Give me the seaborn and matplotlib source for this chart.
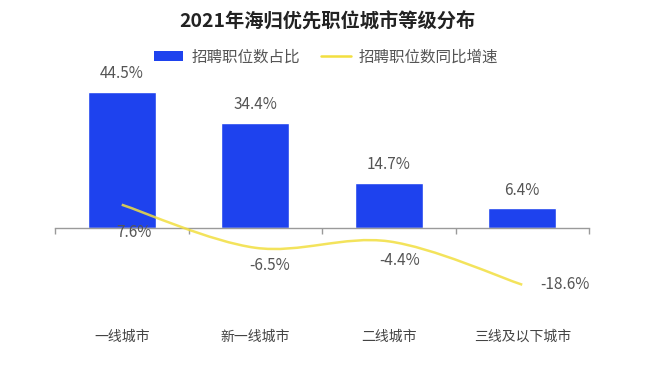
import numpy as np
import pandas as pd
import seaborn as sns
import matplotlib.pyplot as plt
from matplotlib.path import Path
from matplotlib.patches import PathPatch, Patch
from matplotlib.lines import Line2D

# Data
cities = ['一线城市', '新一线城市', '二线城市', '三线及以下城市']
share = [44.5, 34.4, 14.7, 6.4]
growth = [7.6, -6.5, -4.4, -18.6]

title = '2021年海归优先职位城市等级分布'
share_name = '招聘职位数占比'
growth_name = '招聘职位数同比增速'

BLUE = '#1e42ee'
YELLOW = '#f2df3f'

sns.set_theme(style='white')
plt.rcParams['font.family'] = ['Noto Sans CJK SC', 'DejaVu Sans']

df = pd.DataFrame({'city': cities, 'share': share, 'growth': growth})

fig = plt.figure(figsize=(6.55, 3.67), dpi=100)
ax = fig.add_axes([55 / 655, 1 - 300 / 367, (589 - 55) / 655, 230 / 367])

sns.barplot(data=df, x='city', y='share', color=BLUE, saturation=1,
            width=0.51, ax=ax)
ax.set_xlim(-0.5, len(cities) - 0.5)
ax.set_ylim(-23.6, 51.7)

# smooth growth line (Catmull-Rom through the points)
xs = np.arange(len(growth), dtype=float)
pts = np.column_stack([xs, growth])
ext = np.vstack([pts[0], pts, pts[-1]])
verts = [pts[0]]
codes = [Path.MOVETO]
for i in range(len(pts) - 1):
    p0, p1, p2, p3 = ext[i], ext[i + 1], ext[i + 2], ext[i + 3]
    verts += [p1 + (p2 - p0) / 6, p2 - (p3 - p1) / 6, p2]
    codes += [Path.CURVE4] * 3
ax.add_patch(PathPatch(Path(verts, codes), fill=False, edgecolor=YELLOW,
                       lw=1.8, alpha=0.85, zorder=5))

# bar labels
for x, v in zip(xs, share):
    ax.annotate(f'{v}%', (x, v), xytext=(0, 13), textcoords='offset points',
                ha='center', va='center', fontsize=11, color='#555555')

# growth labels
offsets = [(9, -20), (10, -13), (8, -13.5), (31, 0)]
for x, v, off in zip(xs, growth, offsets):
    ax.annotate(f'{v}%', (x, v), xytext=off, textcoords='offset points',
                ha='center', va='center', fontsize=11, color='#555555')

# axis line at zero with boundary ticks
sns.despine(ax=ax, left=True, top=True, right=True)
ax.spines['bottom'].set_position(('data', 0))
ax.spines['bottom'].set_color('#9a9a9a')
ax.spines['bottom'].set_linewidth(1)
ax.set_xticks(np.arange(-0.5, len(cities), 1.0), minor=True)
ax.tick_params(axis='x', which='minor', bottom=True, length=4, width=1,
               color='#9a9a9a', direction='out')
ax.tick_params(axis='x', which='major', bottom=False, labelbottom=False)
ax.set_yticks([])
ax.set_xlabel('')
ax.set_ylabel('')

for x, c in zip(xs, cities):
    ax.text(x, -37 / 230, c, transform=ax.get_xaxis_transform(), ha='center',
            va='center', fontsize=10, color='#444444')

fig.text(0.5, 1 - 22 / 367, title, ha='center', va='center',
         fontsize=13.9, fontweight='bold', color='#222222')

handles = [Patch(facecolor=BLUE, edgecolor='none'),
           Line2D([], [], color=YELLOW, lw=1.8)]
fig.legend(handles, [share_name, growth_name], loc='center',
           bbox_to_anchor=(326 / 655, 1 - 57 / 367), ncol=2, frameon=False,
           fontsize=11.2, handlelength=1.9, handleheight=0.6,
           columnspacing=1.4, handletextpad=0.5, labelcolor='#555555')

fig.savefig('out.png', dpi=100)
